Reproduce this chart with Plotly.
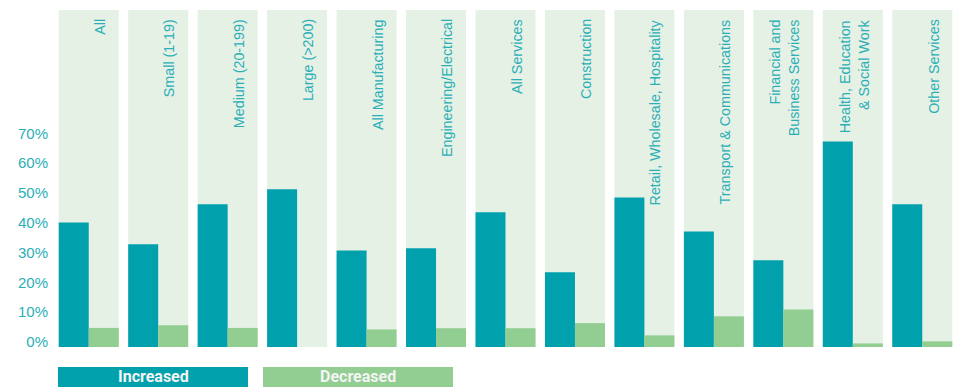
import plotly.graph_objects as go

# Share of firms reporting an increase / decrease, by size band and sector
categories = [
    "All", "Small (1-19)", "Medium (20-199)", "Large (>200)",
    "All Manufacturing", "Engineering/Electrical", "All Services",
    "Construction", "Retail, Wholesale, Hospitality",
    "Transport & Communications", "Financial and Business Services",
    "Health, Education & Social Work", "Other Services",
]
panel_labels = [
    "All", "Small (1-19)", "Medium (20-199)", "Large (>200)",
    "All Manufacturing", "Engineering/Electrical", "All Services",
    "Construction", "Retail, Wholesale, Hospitality",
    "Transport & Communications", "Financial and<br>Business Services",
    "Health, Education<br>& Social Work", "Other Services",
]
increased = [41.8, 34.5, 47.9, 52.9, 32.4, 33.1, 45.2, 25.1, 50.2, 38.8, 29.1, 69.0, 47.9]
decreased = [6.4, 7.3, 6.4, 0.0, 5.9, 6.3, 6.3, 8.0, 3.9, 10.3, 12.6, 1.2, 1.9]
tick_values = [0, 10, 20, 30, 40, 50, 60, 70]
tick_labels = [f"{v}%" for v in tick_values]

TEAL = "#00A1AC"
GREEN = "#92CD91"
PANEL = "#E6F1E5"
TEXT = "#2AAFB7"

W, H = 958, 387
ML, MR, MT, MB = 54, 1, 10, 40
plot_w = W - ML - MR
plot_h = H - MT - MB
y_top = plot_h / 2.98  # value at the top edge of the plotting area
bargap = 0.136

fig = go.Figure()
fig.add_trace(go.Bar(x=categories, y=increased, name="Increased",
                     marker=dict(color=TEAL, line=dict(width=0))))
fig.add_trace(go.Bar(x=categories, y=decreased, name="Decreased",
                     marker=dict(color=GREEN, line=dict(width=0))))

# light background panel behind each category
half = (1 - bargap) / 2
for i, _ in enumerate(categories):
    fig.add_shape(type="rect", xref="x", yref="paper",
                  x0=i - half, x1=i + half, y0=0, y1=1,
                  fillcolor=PANEL, line=dict(width=0), layer="below")

# rotated category labels at the top of each panel
for cat, lab in zip(categories, panel_labels):
    fig.add_annotation(x=cat, y=1, xref="x", yref="paper",
                       text=lab, textangle=-90, showarrow=False,
                       xanchor="right", yanchor="top", align="right",
                       xshift=21, yshift=-7,
                       font=dict(family="Liberation Sans, Arial", size=14.3, color=TEXT))

# legend blocks under the chart
def px_to_paper_x(px):
    return (px - ML) / plot_w

def px_to_paper_y(py):
    return (H - MB - py) / plot_h

legend_items = [("Increased", TEAL, 58, 248), ("Decreased", GREEN, 263, 453)]
for name, col, x0, x1 in legend_items:
    fig.add_shape(type="rect", xref="paper", yref="paper",
                  x0=px_to_paper_x(x0), x1=px_to_paper_x(x1),
                  y0=px_to_paper_y(367), y1=px_to_paper_y(395),
                  fillcolor=col, line=dict(width=0))
    fig.add_annotation(x=px_to_paper_x((x0 + x1) / 2), y=px_to_paper_y(376),
                       xref="paper", yref="paper", text=f"<b>{name}</b>",
                       showarrow=False, xanchor="center", yanchor="middle",
                       borderpad=0,
                       font=dict(family="Roboto, Arial", size=16, color="#F4F4F4"))

fig.update_layout(
    width=W, height=H,
    margin=dict(l=ML, r=MR, t=MT, b=MB, pad=0),
    paper_bgcolor="white", plot_bgcolor="white",
    barmode="group", bargap=bargap, bargroupgap=0,
    showlegend=False,
    xaxis=dict(showticklabels=False, showgrid=False, zeroline=False,
               showline=False, ticks="", range=[-0.5, len(categories) - 0.5]),
    yaxis=dict(range=[0, y_top], tickvals=tick_values, ticktext=tick_labels,
               showgrid=False, zeroline=False, showline=False, ticks="",
               ticklabelshift=-5, ticklabelstandoff=5,
               tickfont=dict(family="Liberation Sans, Arial", size=15, color=TEXT)),
)

fig.write_html("out.html")
